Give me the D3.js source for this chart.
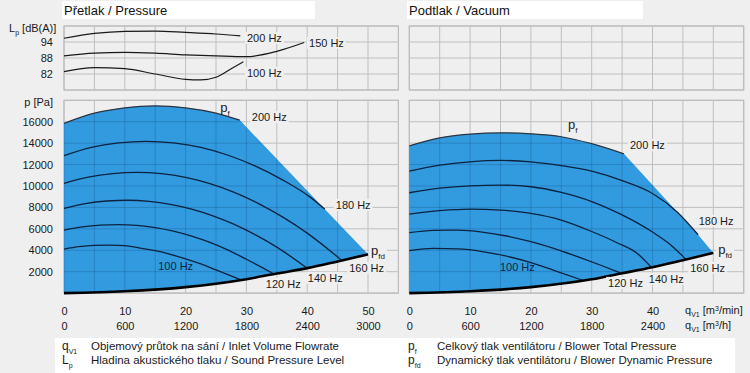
<!DOCTYPE html>
<html>
<head>
<meta charset="utf-8">
<script src="https://cdn.jsdelivr.net/npm/d3@7"></script>
<style>
	body { margin: 0; background: #efefef; }
	svg { display: block; font-family: "Liberation Sans", Arial, sans-serif; }
</style>
</head>
<body>
<div id="chart"></div>
<script>
// axis ticks
const flowTicks = [0, 10, 20, 30, 40, 50]
const flowTicksVac = [0, 10, 20, 30, 40]
const hourTicks = [0, 600, 1200, 1800, 2400, 3000]
const hourTicksVac = [0, 600, 1200, 1800, 2400]
const pressureTicks = [2000, 4000, 6000, 8000, 10000, 12000, 14000, 16000]
const levelTicks = [82, 88, 94]

// sound pressure level, pressure side [q m3/min, dB(A)]
const level200 = [[0, 95.4], [5, 97.2], [10, 98], [15, 98.1], [20, 97.6], [25, 97], [29, 96.3]]
const level150 = [[0, 88.8], [5, 89.8], [10, 90.1], [15, 89.8], [20, 89.2], [25, 88.8], [30, 88.5], [35, 90.5], [39.5, 93.8]]
const level100 = [[0, 82.9], [5, 84.4], [10, 84], [15, 82], [20, 80], [22.5, 79.8], [25, 80.8], [27.5, 84], [29.5, 86.6]]

// pressure side [q m3/min, p Pa]
const pressurePf = [[0, 15850], [5, 16800], [10, 17300], [15, 17480], [20, 17300], [25, 16800], [28.9, 16150]]
const pressure180 = [[0, 12830], [4.5, 13600], [9, 14020], [13.5, 14170], [18, 14020], [22.5, 13600], [27, 12870], [31.5, 11850], [36, 10550], [40.5, 8960], [42.9, 7830]]
const pressure160 = [[0, 10250], [4, 10830], [8, 11160], [12, 11270], [16, 11150], [20, 10800], [24, 10210], [28, 9400], [32, 8360], [36, 7090], [40, 5600], [45.6, 3100]]
const pressure140 = [[0, 7900], [3.5, 8360], [7, 8600], [10.5, 8670], [14, 8570], [17.5, 8290], [21, 7840], [24.5, 7210], [28, 6410], [31.5, 5430], [35, 4290], [39.9, 2360]]
const pressure120 = [[0, 5880], [3, 6180], [6, 6350], [9, 6400], [12, 6320], [15, 6120], [18, 5790], [21, 5320], [24, 4730], [27, 4010], [30, 3160], [34.5, 1800]]
const pressure100 = [[0, 4110], [2.5, 4330], [5, 4450], [7.5, 4480], [10, 4430], [12.5, 4200], [15, 3960], [17.5, 3620], [20, 3200], [22.5, 2720], [25, 2160], [28.9, 1290]]
const pressureLimit = [[28.9, 16150], [42.9, 7830], [50, 3620]]
const pressurePfd = [[0, 0], [10, 170], [20, 560], [30, 1300], [35, 1830], [40, 2330], [45, 2960], [50, 3620]]

// vacuum side [q m3/min, p Pa]
const vacuumPf = [[0, 13750], [5, 14500], [10, 14845], [15, 14965], [20, 14870], [25, 14600], [30, 13950], [35.3, 13000]]
const vacuum180 = [[0, 11390], [5, 11950], [10, 12260], [15, 12390], [20, 12260], [25, 11900], [30, 11380], [35, 10500], [40, 9300], [44, 7600], [47.5, 5450]]
const vacuum160 = [[0, 9370], [5, 9800], [10, 10020], [15, 10085], [20, 9930], [25, 9400], [30, 8550], [35, 7300], [40, 5700], [43, 4500], [45.5, 3150]]
const vacuum140 = [[0, 7380], [5, 7700], [10, 7845], [15, 7750], [20, 7445], [25, 6820], [30, 5750], [34, 4750], [37.5, 3700], [39.8, 2410]]
const vacuum120 = [[0, 5640], [4, 5860], [8, 5880], [12, 5700], [16, 5330], [20, 4800], [24, 4130], [28, 3330], [31.5, 2600], [34.7, 1900]]
const vacuum100 = [[0, 3960], [4, 4170], [8, 4120], [12, 3880], [16, 3450], [20, 2850], [24, 2080], [28.5, 1200]]
const vacuumLimit = [[35.3, 13000], [47.5, 5450], [50, 3750]]
const vacuumPfd = [[0, 0], [10, 170], [20, 560], [30, 1290], [35, 1850], [40, 2420], [45, 3060], [50, 3750]]

// curve labels [text, q, p]
const pressureLabels = [["200 Hz", 30.9, 16420], ["180 Hz", 44.7, 8220], ["160 Hz", 46.9, 2340], ["140 Hz", 40.1, 1410], ["120 Hz", 33.2, 850]]
const vacuumLabels = [["200 Hz", 36.3, 13800], ["180 Hz", 47.6, 6730], ["160 Hz", 46.2, 2340], ["140 Hz", 39.4, 1320], ["120 Hz", 32.7, 940]]
const levelLabels = [["200 Hz", 30.1, 95.5], ["150 Hz", 40.3, 93.6], ["100 Hz", 30.1, 82.4]]

const W = 750, H = 373
const bg = "#efefef"
const blue = "#329bdf"
const gridColor = "#bfbfbf"

const svg = d3.select("#chart").append("svg")
	.attr("width", W)
	.attr("height", H)

svg.append("rect").attr("width", W).attr("height", H).attr("fill", bg)

const y = d3.scaleLinear().domain([0, 18000]).range([293.1, 100.3])
const yS = d3.scaleLinear().domain([76, 100]).range([90, 26])
const gridQ = d3.range(0, 56, 5)
const gridP = d3.range(0, 18001, 2000)
const gridL = d3.range(76, 101, 6)

const addLabelBg = (sel) => {
	sel.each(function () {
		const b = this.getBBox()
		d3.select(this.parentNode).insert("rect", () => this)
			.attr("x", b.x - 2).attr("y", b.y)
			.attr("width", b.width + 4).attr("height", b.height)
			.attr("fill", bg)
	})
}

// text with subscript, e.g. p_f
const subText = (g, main, sub, px, py, size, subSize, anchor) => {
	const t = g.append("text")
		.attr("x", px).attr("y", py)
		.attr("font-size", size)
		.attr("fill", "#1a1a1a")
		.attr("text-anchor", anchor || "start")
	t.append("tspan").text(main)
	t.append("tspan").attr("font-size", subSize).attr("dy", size * 0.3).text(sub)
	return t
}

const drawPanel = (id, x, data) => {
	const g = svg.append("g").attr("id", id)
	const x0 = x(0), x1 = x(55)
	const line = d3.line().x(d => x(d[0])).y(d => y(d[1])).curve(d3.curveMonotoneX)

	// sound level grid
	g.append("rect").attr("x", x0).attr("y", yS(100)).attr("width", x1 - x0).attr("height", yS(76) - yS(100))
		.attr("fill", bg).attr("stroke", "#b0b0b0")
	g.append("g").selectAll("line").data(gridQ).join("line")
		.attr("x1", d => x(d)).attr("x2", d => x(d)).attr("y1", yS(100)).attr("y2", yS(76))
		.attr("stroke", gridColor)
	g.append("g").selectAll("line").data(gridL).join("line")
		.attr("x1", x0).attr("x2", x1).attr("y1", d => yS(d)).attr("y2", d => yS(d))
		.attr("stroke", gridColor)

	// main grid
	g.append("rect").attr("x", x0).attr("y", y(18000)).attr("width", x1 - x0).attr("height", y(0) - y(18000))
		.attr("fill", bg).attr("stroke", "#b0b0b0")
	const grid = (sel, color) => {
		sel.append("g").selectAll("line").data(gridQ).join("line")
			.attr("x1", d => x(d)).attr("x2", d => x(d)).attr("y1", y(18000)).attr("y2", y(0))
			.attr("stroke", color)
		sel.append("g").selectAll("line").data(gridP).join("line")
			.attr("x1", x0).attr("x2", x1).attr("y1", d => y(d)).attr("y2", d => y(d))
			.attr("stroke", color)
	}
	grid(g, gridColor)

	// operating field
	const area = line(data.pf)
		+ data.limit.slice(1).map(d => "L" + x(d[0]) + "," + y(d[1])).join("")
		+ line(data.pfd.slice().reverse()).replace(/^M/, "L") + "Z"
	g.append("path").attr("d", area).attr("fill", blue)
	g.append("clipPath").attr("id", "clip" + id).append("path").attr("d", area)
	grid(g.append("g").attr("clip-path", `url(#clip${id})`), "rgba(0,35,80,0.2)")

	// speed curves
	g.append("g").selectAll("path").data(data.curves).join("path")
		.attr("d", line)
		.attr("fill", "none")
		.attr("stroke", "#0c2340")
		.attr("stroke-width", 1.3)
	g.append("path").attr("d", line(data.pf))
		.attr("fill", "none").attr("stroke", "#2b3440").attr("stroke-width", 1.2)
	g.append("path").attr("d", line(data.pfd))
		.attr("fill", "none").attr("stroke", "#000").attr("stroke-width", 2.6)

	// labels
	const lab = g.append("g").selectAll("text").data(data.labels).join("text")
		.attr("x", d => x(d[1])).attr("y", d => y(d[2]))
		.attr("dy", "0.35em")
		.attr("font-size", 11)
		.attr("fill", "#1a1a1a")
		.text(d => d[0])
	addLabelBg(lab)
	g.append("text")
		.attr("x", x(data.low[0])).attr("y", y(data.low[1])).attr("dy", "0.35em")
		.attr("font-size", 11).attr("fill", "#10253d")
		.text("100 Hz")
	subText(g, "p", "f", x(data.pfLabel[0]), y(data.pfLabel[1]) + 4, 13, 8)
	addLabelBg(subText(g, "p", "fd", x(data.pfdLabel[0]), y(data.pfdLabel[1]) + 4, 13, 8))

	return g
}

const xL = d3.scaleLinear().domain([0, 55]).range([64, 398.4])
const xR = d3.scaleLinear().domain([0, 55]).range([409.3, 743.7])

const left = drawPanel("pressure", xL, {
	pf: pressurePf,
	curves: [pressure180, pressure160, pressure140, pressure120, pressure100],
	limit: pressureLimit,
	pfd: pressurePfd,
	labels: pressureLabels,
	low: [15.5, 2530],
	pfLabel: [25.7, 17270],
	pfdLabel: [50.5, 3900]
})

const right = drawPanel("vacuum", xR, {
	pf: vacuumPf,
	curves: [vacuum180, vacuum160, vacuum140, vacuum120, vacuum100],
	limit: vacuumLimit,
	pfd: vacuumPfd,
	labels: vacuumLabels,
	low: [14.9, 2440],
	pfLabel: [26.1, 15670],
	pfdLabel: [50.8, 4020]
})

// sound level curves (pressure side only)
const lineS = d3.line().x(d => xL(d[0])).y(d => yS(d[1])).curve(d3.curveMonotoneX)
left.append("g").selectAll("path").data([level200, level150, level100]).join("path")
	.attr("d", lineS)
	.attr("fill", "none")
	.attr("stroke", "#1a1a1a")
	.attr("stroke-width", 1.2)
const lvl = left.append("g").selectAll("text").data(levelLabels).join("text")
	.attr("x", d => xL(d[1])).attr("y", d => yS(d[2]))
	.attr("dy", "0.35em")
	.attr("font-size", 11)
	.attr("fill", "#1a1a1a")
	.text(d => d[0])
addLabelBg(lvl)

// headers
const header = (x0, w, text) => {
	svg.append("rect").attr("x", x0).attr("y", 1).attr("width", w).attr("height", 18).attr("fill", "#fff")
	svg.append("text").attr("x", x0 + 2).attr("y", 15).attr("font-size", 13).attr("fill", "#111").text(text)
}
header(62, 253, "Přetlak / Pressure")
header(407, 236, "Podtlak / Vacuum")

// y axes
const yAxis = svg.append("g").attr("transform", `translate(${xL(0)},0)`)
	.call(d3.axisLeft(y).tickValues(pressureTicks).tickSize(0).tickPadding(11).tickFormat(d3.format("d")))
const yAxisS = svg.append("g").attr("transform", `translate(${xL(0)},0)`)
	.call(d3.axisLeft(yS).tickValues(levelTicks).tickSize(0).tickPadding(11))
svg.append("text").attr("x", 53).attr("y", 102).attr("dy", "0.35em").attr("text-anchor", "end")
	.attr("font-size", 11).attr("fill", "#1a1a1a").text("p [Pa]")
const lp = subText(svg, "L", "p", 9, 28, 11, 7)
lp.attr("dy", "0.35em")
lp.append("tspan").attr("dy", -3.3).text(" [dB(A)]")

// x axes
const xAxis = (scale, ticks, yPos, fmt) => {
	svg.append("g").attr("transform", `translate(0,${yPos})`)
		.call(d3.axisBottom(scale).tickValues(ticks).tickSize(0).tickFormat(fmt))
}
const xh = (x) => d3.scaleLinear().domain([0, 3300]).range(x.range())
xAxis(xL, flowTicks, 304, d3.format("d"))
xAxis(xh(xL), hourTicks, 319, d3.format("d"))
xAxis(xR, flowTicksVac, 304, d3.format("d"))
xAxis(xh(xR), hourTicksVac, 319, d3.format("d"))

svg.selectAll(".domain").remove()
svg.selectAll(".tick text").attr("font-size", 11).attr("fill", "#1a1a1a")
	.attr("font-family", "Liberation Sans, Arial, sans-serif")

const unit = (yPos, u) => {
	const t = subText(svg, "q", "V1", 685, yPos, 11, 7)
	t.append("tspan").attr("dy", -3.3).text(" [m")
	t.append("tspan").attr("font-size", 7).attr("dy", -3.5).text("3")
	t.append("tspan").attr("dy", 3.5).text(u)
}
unit(314, "/min]")
unit(329, "/h]")

// legend
svg.append("rect").attr("x", 55).attr("y", 338).attr("width", 680).attr("height", 35).attr("fill", "#fff")
const legend = [
	["q", "V1", "Objemový průtok na sání / Inlet Volume Flowrate", 62, 350],
	["L", "p", "Hladina akustického tlaku / Sound Pressure Level", 62, 364],
	["p", "f", "Celkový tlak ventilátoru / Blower Total Pressure", 408, 350],
	["p", "fd", "Dynamický tlak ventilátoru / Blower Dynamic Pressure", 408, 364]
]
legend.forEach(d => {
	subText(svg, d[0], d[1], d[3], d[4], 12, 7)
	svg.append("text").attr("x", d[3] + 29).attr("y", d[4]).attr("font-size", 11.5)
		.attr("fill", "#1a1a1a").text(d[2])
})
</script>
</body>
</html>
